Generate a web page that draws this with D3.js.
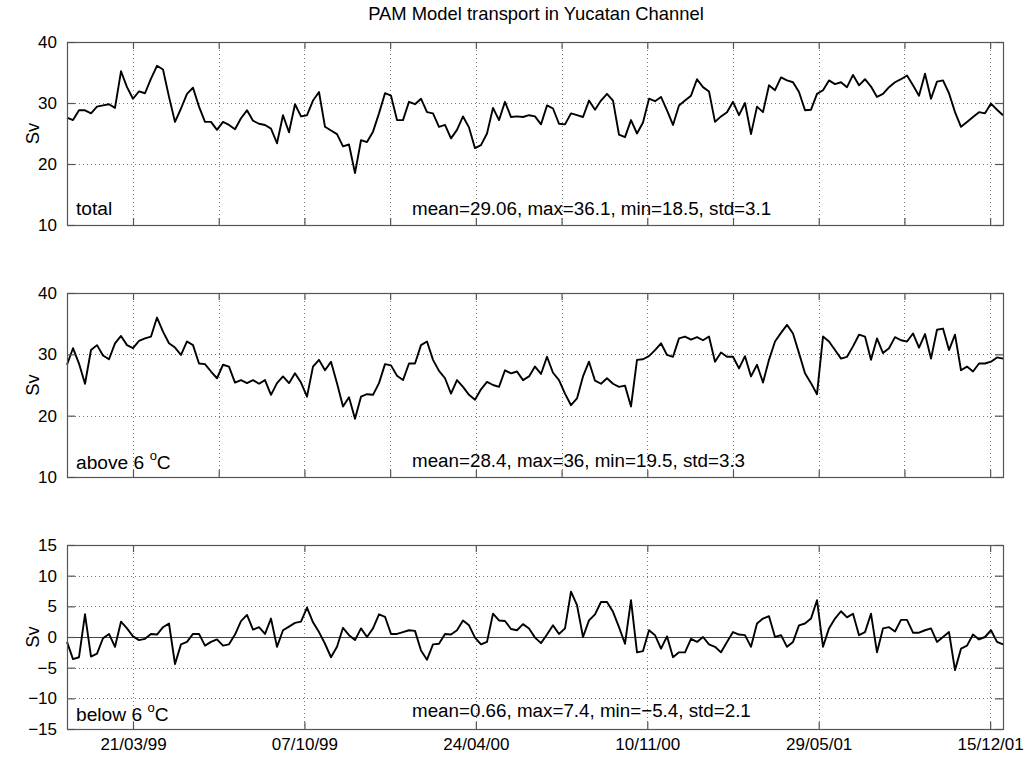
<!DOCTYPE html>
<html>
<head>
<meta charset="utf-8">
<script src="https://cdn.jsdelivr.net/npm/d3@7"></script>
<style>
  body { margin: 0; background: #fff; }
  svg { display: block; font-family: "Liberation Sans", Arial, Helvetica, sans-serif; }
</style>
</head>
<body>
<svg id="chart" width="1028" height="757"></svg>
<script>
// Weekly PAM model transport (Sv) through the Yucatan Channel, Jan 1999 - Dec 2001
const firstWeek = "1999-01-03";
const lastDay = "2001-12-30";
const weekStepDays = 7;

const totalSv = [
  27.6, 27.2, 28.8, 28.8, 28.3, 29.4, 29.6, 29.8, 29.2, 35.2,
  32.6, 30.7, 31.9, 31.6, 34.0, 36.1, 35.5, 31.0, 26.9, 29.1,
  31.5, 32.5, 29.4, 26.9, 26.9, 25.6, 26.9, 26.4, 25.7, 27.5,
  28.8, 27.1, 26.6, 26.4, 25.8, 23.4, 28.0, 25.2, 29.8, 27.8,
  28.0, 30.4, 31.8, 26.1, 25.5, 24.9, 22.9, 23.2, 18.5, 23.9,
  23.6, 25.3, 28.3, 31.6, 31.2, 27.2, 27.2, 30.2, 29.8, 30.7,
  28.5, 28.3, 26.1, 26.4, 24.2, 25.6, 27.8, 26.0, 22.6, 23.1,
  25.0, 29.2, 27.2, 30.2, 27.7, 27.8, 27.7, 28.0, 27.8, 26.5,
  29.6, 29.1, 26.6, 26.5, 28.3, 28.0, 27.7, 30.4, 28.9, 30.4,
  31.5, 30.4, 24.8, 24.4, 27.2, 25.0, 26.8, 30.7, 30.3, 31.0,
  28.8, 26.4, 29.6, 30.4, 31.2, 33.9, 32.6, 31.9, 26.9, 27.8,
  28.5, 30.2, 28.0, 30.0, 24.9, 29.4, 28.5, 32.9, 32.1, 34.2,
  33.7, 33.4, 31.8, 28.8, 28.9, 31.5, 32.1, 33.7, 33.1, 33.4,
  32.6, 34.6, 32.9, 33.9, 32.7, 31.0, 31.5, 32.6, 33.4, 33.9,
  34.5, 32.9, 31.2, 34.8, 30.7, 33.5, 33.7, 31.6, 28.5, 26.1,
  26.9, 27.7, 28.5, 28.3, 29.9, 28.9, 28.0
];

const aboveSv = [
  28.3, 31.0, 28.5, 25.2, 30.7, 31.5, 29.8, 29.2, 31.8, 33.0,
  31.5, 31.0, 32.2, 32.6, 32.9, 36.0, 33.7, 31.8, 31.1, 29.9,
  32.1, 31.5, 28.5, 28.4, 27.2, 26.1, 28.3, 28.0, 25.4, 25.8,
  25.3, 25.8, 25.2, 25.8, 23.4, 25.3, 26.4, 25.3, 26.9, 25.4,
  23.1, 28.0, 29.1, 27.4, 28.8, 25.3, 21.5, 23.0, 19.5, 23.1,
  23.5, 23.4, 25.3, 28.4, 28.2, 26.5, 25.8, 28.5, 28.5, 31.5,
  32.1, 29.1, 27.3, 26.1, 23.6, 25.8, 24.7, 23.4, 22.6, 24.3,
  25.5, 25.0, 24.7, 27.4, 26.9, 27.2, 25.8, 26.4, 28.0, 26.8,
  29.6, 27.0, 25.8, 23.6, 21.7, 22.8, 26.4, 28.8, 25.7, 25.2,
  26.1, 25.2, 24.7, 24.9, 21.5, 29.1, 29.2, 29.7, 30.7, 31.8,
  29.9, 29.6, 32.6, 32.9, 32.4, 32.8, 32.3, 32.9, 28.8, 30.3,
  29.6, 29.6, 27.7, 29.7, 26.4, 28.3, 25.4, 29.1, 32.1, 33.5,
  34.8, 33.4, 30.2, 26.9, 25.3, 23.5, 32.9, 32.1, 30.7, 29.3,
  29.6, 31.3, 33.2, 32.9, 29.1, 32.6, 30.2, 31.0, 32.8, 32.3,
  32.1, 33.4, 31.1, 33.3, 29.3, 34.0, 34.2, 30.7, 33.2, 27.4,
  28.0, 27.2, 28.5, 28.5, 28.8, 29.5, 29.3
];

const belowSv = [
  -0.8, -3.6, -3.3,  3.7, -3.2, -2.7, -0.2,  0.5, -1.6,  2.5,
   1.4,  0.1, -0.5, -0.3,  0.5,  0.4,  1.6,  2.2, -4.4, -1.2,
  -0.8,  0.5,  0.5, -1.4, -0.8, -0.4, -1.4, -1.2,  0.4,  2.6,
   3.6,  1.2,  1.6,  0.5,  3.0, -1.6,  1.1,  1.7,  2.3,  2.5,
   4.8,  2.4,  0.8, -1.1, -3.3, -1.6,  1.5,  0.3, -0.5,  1.4,
   0.0,  1.4,  3.7,  3.3,  0.5,  0.5,  0.8,  1.1,  1.0, -2.2,
  -3.7, -1.2, -1.1,  0.5,  0.4,  1.1,  2.7,  1.9, -0.1, -1.2,
  -0.8,  3.8,  2.7,  2.6,  1.3,  1.1,  2.1,  1.4, -0.1, -1.0,
   0.4,  1.9,  0.5,  1.4,  7.4,  5.2,  0.0,  2.7,  3.7,  5.7,
   5.7,  4.1,  1.6, -1.1,  6.0, -2.5, -2.3,  1.1,  0.3, -1.9,
   0.1, -3.3, -2.5, -2.5, -0.3, -0.8,  0.0, -1.2, -1.6, -2.5,
  -0.8,  0.8,  0.4,  0.3, -1.6,  2.2,  3.0,  3.4,  0.0,  0.3,
  -1.6, -0.8,  1.9,  2.2,  3.0,  6.0, -1.6,  1.4,  3.0,  4.2,
   3.2,  3.8,  0.3,  0.8,  3.8, -2.5,  1.4,  1.6,  0.9,  2.8,
   2.8,  0.7,  0.7,  1.1,  1.4, -0.8,  0.0,  0.8, -5.4, -1.9,
  -1.4,  0.4, -0.4,  0.0,  1.1, -0.8, -1.2
];

// Date ticks: grid every 100 days on the upper panels, labelled every 200 days below
const gridTickDates = ["21/03/99", "29/06/99", "07/10/99", "15/01/00", "24/04/00",
  "02/08/00", "10/11/00", "18/02/01", "29/05/01", "06/09/01", "15/12/01"];
const labelTickDates = ["21/03/99", "07/10/99", "24/04/00", "10/11/00", "29/05/01", "15/12/01"];

const upperSvTicks = [10, 20, 30, 40];
const lowerSvTicks = [-15, -10, -5, 0, 5, 10, 15];

const panelNames = [
  { text: "total", sup: null, after: null },
  { text: "above 6 ", sup: "o", after: "C" },
  { text: "below 6 ", sup: "o", after: "C" }
];
const statsTexts = [
  "mean=29.06, max=36.1, min=18.5, std=3.1",
  "mean=28.4, max=36, min=19.5, std=3.3",
  "mean=0.66, max=7.4, min=\u22125.4, std=2.1"
];

const titleText = "PAM Model transport in Yucatan Channel";
const unitLabel = "Sv";

// ---- layout ----
const parseIso = d3.utcParse("%Y-%m-%d");
const parseTick = d3.utcParse("%d/%m/%y");
const fmtTick = d3.utcFormat("%d/%m/%y");
const start = parseIso(firstWeek);
const dates = totalSv.map((_, i) => d3.utcDay.offset(start, i * weekStepDays));

const plotLeft = 67, plotRight = 1003;
const boxes = [
  { top: 42, bottom: 225, nameY: 215, statsY: 215 },
  { top: 293, bottom: 477, nameY: 469, statsY: 467 },
  { top: 545, bottom: 729, nameY: 721, statsY: 717 }
];
const frameColor = "#555";
const gridColor = "#777";
const tickFont = 17;
const textFont = 18.4;
const statsFont = 18.8;

const x = d3.scaleUtc()
  .domain([parseIso(firstWeek), parseIso(lastDay)])
  .range([plotLeft, plotRight]);

const svg = d3.select("#chart");

svg.append("text")
  .attr("x", 536).attr("y", 20)
  .attr("text-anchor", "middle")
  .attr("font-size", textFont)
  .attr("fill", "#000")
  .text(titleText);

const panels = [
  { values: totalSv, domain: [10, 40], ticks: upperSvTicks, xticks: gridTickDates, labelled: false },
  { values: aboveSv, domain: [10, 40], ticks: upperSvTicks, xticks: gridTickDates, labelled: false },
  { values: belowSv, domain: [-15, 15], ticks: lowerSvTicks, xticks: labelTickDates, labelled: true }
];

panels.forEach((p, k) => {
  const box = boxes[k];
  const y = d3.scaleLinear().domain(p.domain).range([box.bottom, box.top]);
  const g = svg.append("g");
  const xTickDates = p.xticks.map(parseTick);

  // dotted grid
  const grid = g.append("g")
    .attr("stroke", gridColor)
    .attr("stroke-width", 1)
    .attr("stroke-dasharray", "1,3");
  grid.selectAll("line.h")
    .data(p.ticks.filter(v => v > p.domain[0] && v < p.domain[1]))
    .join("line")
    .attr("x1", plotLeft).attr("x2", plotRight)
    .attr("y1", d => Math.round(y(d)) + 0.5).attr("y2", d => Math.round(y(d)) + 0.5);
  grid.selectAll("line.v")
    .data(xTickDates)
    .join("line")
    .attr("x1", d => Math.round(x(d)) + 0.5).attr("x2", d => Math.round(x(d)) + 0.5)
    .attr("y1", box.top).attr("y2", box.bottom);

  // zero reference on the signed panel
  if (p.domain[0] < 0) {
    g.append("line")
      .attr("x1", plotLeft).attr("x2", plotRight)
      .attr("y1", Math.round(y(0)) + 0.5).attr("y2", Math.round(y(0)) + 0.5)
      .attr("stroke", "#444").attr("stroke-width", 1.2);
  }

  // transport series
  const line = d3.line()
    .x((d, i) => x(dates[i]))
    .y(d => y(d));
  g.append("path")
    .datum(p.values)
    .attr("fill", "none")
    .attr("stroke", "#000")
    .attr("stroke-width", 1.9)
    .attr("stroke-linejoin", "round")
    .attr("d", line);

  // axes with inward ticks on all four sides
  const styleAxis = sel => {
    sel.select(".domain").remove();
    sel.selectAll(".tick line").attr("stroke", frameColor).attr("stroke-width", 1.2);
    sel.selectAll(".tick text").attr("font-size", tickFont).attr("fill", "#000")
      .attr("font-family", "Liberation Sans, Arial, Helvetica, sans-serif");
  };
  g.append("g").attr("transform", `translate(${plotLeft},0)`)
    .call(d3.axisLeft(y).tickValues(p.ticks).tickSize(-8).tickPadding(10).tickFormat(d3.format("d")))
    .call(styleAxis);
  g.append("g").attr("transform", `translate(${plotRight},0)`)
    .call(d3.axisRight(y).tickValues(p.ticks).tickSize(-8).tickFormat(""))
    .call(styleAxis);
  g.append("g").attr("transform", `translate(0,${box.top})`)
    .call(d3.axisTop(x).tickValues(xTickDates).tickSize(-7).tickFormat(""))
    .call(styleAxis);
  g.append("g").attr("transform", `translate(0,${box.bottom})`)
    .call(d3.axisBottom(x).tickValues(xTickDates).tickSize(-7).tickPadding(9)
      .tickFormat(p.labelled ? fmtTick : ""))
    .call(styleAxis);

  // frame
  g.append("rect")
    .attr("x", plotLeft + 0.5).attr("y", box.top + 0.5)
    .attr("width", plotRight - plotLeft).attr("height", box.bottom - box.top)
    .attr("fill", "none").attr("stroke", frameColor).attr("stroke-width", 1.2);

  // unit label
  g.append("text")
    .attr("transform", `translate(39,${(box.top + box.bottom) / 2}) rotate(-90)`)
    .attr("text-anchor", "middle")
    .attr("font-size", textFont)
    .attr("fill", "#000")
    .text(unitLabel);

  // panel name
  const nm = panelNames[k];
  const t = g.append("text")
    .attr("x", 76).attr("y", box.nameY)
    .attr("font-size", textFont + 0.8)
    .attr("fill", "#000");
  t.append("tspan").text(nm.text);
  if (nm.sup) {
    t.append("tspan").attr("font-size", 13).attr("dy", -9).text(nm.sup);
    t.append("tspan").attr("dy", 9).text(nm.after);
  }

  // statistics
  g.append("text")
    .attr("x", 412).attr("y", box.statsY)
    .attr("font-size", statsFont)
    .attr("fill", "#000")
    .text(statsTexts[k]);
});
</script>
</body>
</html>
